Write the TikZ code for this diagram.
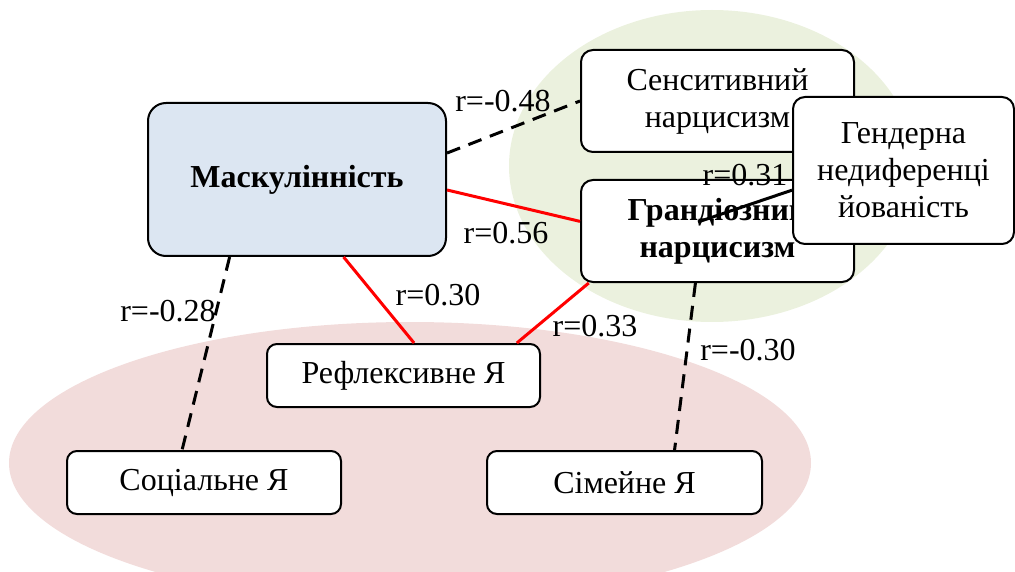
\documentclass[tikz,border=0pt]{standalone}
\usepackage{fontspec}
\setmainfont{Liberation Serif}
\usepackage{tikz}
\usetikzlibrary{shapes, positioning}

\definecolor{olivebg}{HTML}{EBF1DE}
\definecolor{rosebg}{HTML}{F2DCDB}
\definecolor{bluebox}{HTML}{DCE6F2}

\begin{document}
\begin{tikzpicture}[x=1pt, y=-1pt]
        \fontsize{32}{37}\selectfont
        \tikzstyle{block} = [draw, shape=rectangle, rounded corners=12pt, fill=white,
        line width=2pt, align=center, inner sep=0pt]
        \tikzstyle{posline} = [red, line width=3pt]
        \tikzstyle{negline} = [black, line width=3pt, dash pattern=on 14pt off 9pt]
        \tikzstyle{coef} = [inner sep=0pt]
        \clip (0,0) rectangle (1015,572);
        %Background areas
        \fill[olivebg] (712,166) ellipse [x radius=203pt, y radius=156pt];
        \fill[rosebg] (410,463) ellipse [x radius=401pt, y radius=141pt];
        %Creating Blocks
        \node [block, rounded corners=18pt, fill=bluebox, minimum width=298pt,
        minimum height=153pt, font=\bfseries] at (297,179.5) (masc) {Маскулінність};
        \node [block, minimum width=273pt, minimum height=102pt] at (717.5,101) (sens) {Сенситивний\\нарцисизм};
        \node [block, minimum width=273pt, minimum height=102pt, font=\bfseries] at (717.5,231) (grand) {Грандіозний\\нарцисизм};
        \node [block, minimum width=221pt, minimum height=147pt] at (903.5,170.5) (gend) {Гендерна\\недиференці\\йованість};
        \node [block, rounded corners=10pt, minimum width=273pt, minimum height=63pt] at (403.5,375.5) (refl) {Рефлексивне Я};
        \node [block, rounded corners=10pt, minimum width=274pt, minimum height=63pt] at (204,482.5) (soc) {Соціальне Я};
        \node [block, rounded corners=10pt, minimum width=275pt, minimum height=63pt] at (624.5,482.5) (fam) {Сімейне Я};
        %Connecting Blocks
        \begin{scope}[line width=3pt]
            \draw[negline] (masc.10) -- (sens.west);
            \draw[posline] (masc.-4) -- (grand.176);
            \draw (gend.190) -- ([xshift=-19.5pt,yshift=9pt]grand.center);
            \draw[negline] (masc.-131) -- (soc.124);
            \draw[posline] (masc.-59) -- (refl.72);
            \draw[posline] (grand.-158) -- (refl.16);
            \draw[negline] (grand.-113) -- (fam.33);
        \end{scope}
        %Coefficients
        \node [coef] at (503,101) (r48) {r=-0.48};
        \node [coef] at (506,233) (r56) {r=0.56};
        \node [coef] at (745,175) (r31) {r=0.31};
        \node [coef] at (438,295) (r30) {r=0.30};
        \node [coef] at (168,311) (r28) {r=-0.28};
        \node [coef] at (595,326) (r33) {r=0.33};
        \node [coef] at (748,350) (rm30) {r=-0.30};
    \end{tikzpicture}
\end{document}
